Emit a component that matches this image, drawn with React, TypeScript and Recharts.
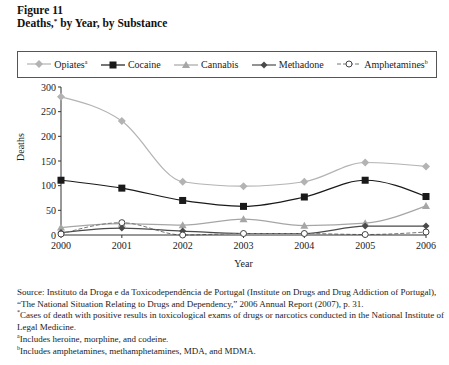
import { LineChart, Line, XAxis, YAxis, Legend } from 'recharts'

const years = ['2000', '2001', '2002', '2003', '2004', '2005', '2006']
const opiates = [280, 231, 108, 99, 108, 147, 139]
const cocaine = [111, 95, 70, 58, 77, 111, 78]
const cannabis = [15, 23, 20, 32, 19, 24, 59]
const methadone = [5, 14, 8, 3, 3, 18, 18]
const amphetamines = [2, 25, 0, 3, 3, 1, 6]
const yTicks = [0, 50, 100, 150, 200, 250, 300]

const data = years.map((year, i) => ({
  year,
  opiates: opiates[i],
  cocaine: cocaine[i],
  cannabis: cannabis[i],
  methadone: methadone[i],
  amphetamines: amphetamines[i],
}))

const FONT = '"Liberation Serif", "Times New Roman", serif'

// marker shapes, shared by the lines and the legend
function Marker({ kind, cx, cy, color }: { kind: string; cx: number; cy: number; color: string }) {
  if (kind === 'diamond')
    return <polygon points={`${cx},${cy - 4} ${cx + 4},${cy} ${cx},${cy + 4} ${cx - 4},${cy}`} fill={color} />
  if (kind === 'smalldiamond')
    return <polygon points={`${cx},${cy - 3.5} ${cx + 3.5},${cy} ${cx},${cy + 3.5} ${cx - 3.5},${cy}`} fill={color} />
  if (kind === 'square') return <rect x={cx - 3.5} y={cy - 3.5} width={7} height={7} fill={color} />
  if (kind === 'triangle')
    return <polygon points={`${cx},${cy - 4} ${cx + 4},${cy + 3} ${cx - 4},${cy + 3}`} fill={color} />
  return <circle cx={cx} cy={cy} r={3} fill="#fff" stroke="#444" strokeWidth={1} />
}

const series = [
  { key: 'opiates', name: 'Opiates', sup: 'a', color: '#b3b3b3', kind: 'diamond', dash: undefined, width: 1.2 },
  { key: 'cocaine', name: 'Cocaine', sup: '', color: '#1a1a1a', kind: 'square', dash: undefined, width: 1.2 },
  { key: 'cannabis', name: 'Cannabis', sup: '', color: '#a6a6a6', kind: 'triangle', dash: undefined, width: 1.2 },
  { key: 'methadone', name: 'Methadone', sup: '', color: '#4a4a4a', kind: 'smalldiamond', dash: undefined, width: 1.2 },
  { key: 'amphetamines', name: 'Amphetamines', sup: 'b', color: '#777', kind: 'circle', dash: '4 2', width: 1 },
]

function BoxLegend() {
  return (
    <div
      style={{
        border: '1px solid #555',
        height: 25,
        display: 'flex',
        alignItems: 'center',
        justifyContent: 'space-around',
        fontFamily: FONT,
        fontSize: 10,
        color: '#222',
        padding: '0 2px',
      }}
    >
      {series.map((s) => (
        <span key={s.key} style={{ display: 'flex', alignItems: 'center' }}>
          <svg width={26} height={10}>
            <line x1={1} y1={5} x2={25} y2={5} stroke={s.color} strokeWidth={s.width} strokeDasharray={s.dash} />
            <Marker kind={s.kind} cx={13} cy={5} color={s.color} />
          </svg>
          <span style={{ marginLeft: 2 }}>
            {s.name}
            {s.sup && <sup style={{ fontSize: 6 }}>{s.sup}</sup>}
          </span>
        </span>
      ))}
    </div>
  )
}

export default function App() {
  return (
    <div style={{ position: 'fixed', left: 0, top: 0, width: 449, height: 365, background: '#fff', fontFamily: FONT }}>
      <div style={{ position: 'absolute', left: 17, top: 4, fontSize: 11.5, fontWeight: 'bold', lineHeight: '13px', color: '#111' }}>
        <div>Figure 11</div>
        <div>
          Deaths,<sup style={{ fontSize: 7, lineHeight: 0, verticalAlign: 4 }}>*</sup> by Year, by Substance
        </div>
      </div>

      <div style={{ position: 'absolute', left: 0, top: 45 }}>
        <LineChart width={449} height={228} data={data} margin={{ top: 42, right: 23, left: 0, bottom: 0 }}>
          <Legend
            layout="horizontal"
            verticalAlign="middle"
            align="center"
            wrapperStyle={{ top: 6, left: 17, width: 420, height: 27 }}
            content={() => <BoxLegend />}
          />
          <XAxis
            dataKey="year"
            tick={{ fontSize: 10, fill: '#222', fontFamily: FONT }}
            tickSize={3}
            tickMargin={4}
            axisLine={{ stroke: '#333' }}
            tickLine={{ stroke: '#333' }}
            height={38}
            label={{ value: 'Year', position: 'insideBottom', offset: 6, fontSize: 10, fill: '#222', fontFamily: FONT }}
          />
          <YAxis
            domain={[0, 300]}
            ticks={yTicks}
            tick={{ fontSize: 10, fill: '#222', fontFamily: FONT }}
            tickSize={3}
            tickMargin={2}
            axisLine={{ stroke: '#333' }}
            tickLine={{ stroke: '#333' }}
            width={61}
            label={{ value: 'Deaths', angle: -90, position: 'insideLeft', offset: 20, fontSize: 10, fill: '#222', fontFamily: FONT }}
          />
          {series.map((s) => (
            <Line
              key={s.key}
              dataKey={s.key}
              name={s.name}
              type="monotone"
              stroke={s.color}
              strokeWidth={s.width}
              strokeDasharray={s.dash}
              isAnimationActive={false}
              dot={(p: any) => <Marker key={`${s.key}-${p.index}`} kind={s.kind} cx={p.cx} cy={p.cy} color={s.color} />}
              activeDot={false}
            />
          ))}
        </LineChart>
      </div>

      <div style={{ position: 'absolute', left: 17, top: 287, width: 432, fontSize: 9, lineHeight: '11.7px', color: '#222', whiteSpace: 'nowrap' }}>
        Source: Instituto da Droga e da Toxicodependência de Portugal (Institute on Drugs and Drug Addiction of Portugal),
        <br />
        “The National Situation Relating to Drugs and Dependency,” 2006 Annual Report (2007), p. 31.
        <br />
        <sup style={{ fontSize: 6, lineHeight: 0 }}>*</sup>Cases of death with positive results in toxicological exams of drugs or narcotics conducted in the National Institute of
        <br />
        Legal Medicine.
        <br />
        <sup style={{ fontSize: 6, lineHeight: 0 }}>a</sup>Includes heroine, morphine, and codeine.
        <br />
        <sup style={{ fontSize: 6, lineHeight: 0 }}>b</sup>Includes amphetamines, methamphetamines, MDA, and MDMA.
      </div>
    </div>
  )
}
